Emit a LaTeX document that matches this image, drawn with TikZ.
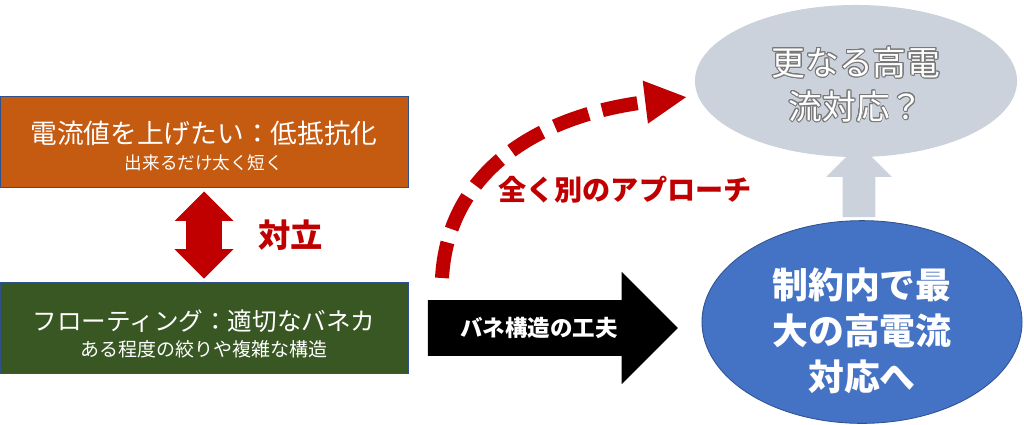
\documentclass[tikz,border=0pt]{standalone}
\usepackage{fontspec}
\setmainfont{Noto Sans CJK JP}
\usepackage{xcolor}
\usepackage{tikz}
\usepackage{contour}
\usetikzlibrary{shapes,arrows,arrows.meta,positioning,calc}
\definecolor{orangebox}{RGB}{197,90,17}
\definecolor{greenbox}{RGB}{56,87,35}
\definecolor{boxline}{RGB}{47,82,143}
\definecolor{darkred}{RGB}{192,0,0}
\definecolor{bluecloud}{RGB}{68,114,196}
\definecolor{greycloud}{RGB}{203,210,219}
\definecolor{greyedge}{RGB}{120,120,120}
\contourlength{0.7pt}
\lineskiplimit=-1000pt
\tikzstyle{block} = [rectangle, draw=boxline, line width=0.6pt, text=white, align=center, minimum
    width=10.2cm, minimum height=2.27cm, inner sep=0pt, font=\fontsize{12}{18.5}\selectfont]
\tikzstyle{cloud} = [ellipse, align=center, inner sep=0pt]
\tikzstyle{dblarrow} = [double arrow, shape border rotate=90, fill=darkred, inner sep=0.4375cm,
minimum height=2.175cm, double arrow head extend=0.29cm]
\tikzstyle{blockarrow} = [single arrow, fill=black, text=white, inner xsep=0pt, inner ysep=0.4075cm,
text height=0.49cm, text depth=0.07cm, minimum height=6.25cm,
single arrow head extend=0.71cm, font=\bfseries\fontsize{16}{18}\selectfont]
\tikzstyle{uparrow} = [single arrow, shape border rotate=90, fill=greycloud, inner sep=0.4cm,
single arrow head extend=0.41cm]
\tikzstyle{redtext} = [text=darkred, inner sep=0pt, font=\bfseries]
\tikzstyle{dashline} = [draw=darkred, line width=0.35cm, dash pattern=on 0.9cm off 0.35cm,
-{Triangle[length=1.05cm,width=1.0cm]}]

\begin{document}
\begin{tikzpicture}[x=0.025cm,y=-0.025cm]
      \useasboundingbox (0,0) rectangle (1024,424);
      \node [block, fill=orangebox] (demand) at (204,142) {\rule{0pt}{0.74cm}\fontsize{19}{19}\selectfont 電流値を上げたい：低抵抗化\\
        \fontsize{12.5}{17}\selectfont 出来るだけ太く短く};
      \node [block, fill=greenbox] (floating) at (204,328) {\rule{0pt}{0.79cm}\fontsize{17.5}{19}\selectfont フローティング：適切なバネカ\\
        \fontsize{13.5}{17}\selectfont ある程度の絞りや複雑な構造};

      \node [dblarrow] (conflict) at ($(demand.south)!0.5!(floating.north)$) {};
      \node [redtext, right=0.9cm of conflict, font=\bfseries\fontsize{23}{23}\selectfont] (conflictlabel) {対立};

      \node [blockarrow, right=0.475cm of floating] (spring) {バネ構造の工夫};

      \node [cloud, fill=bluecloud, draw=boxline, line width=0.6pt, text=white, minimum width=8cm,
        minimum height=4.625cm, font=\bfseries\fontsize{25.5}{32.7}\selectfont] (limit) at (862,322)
        {\rule{0pt}{1.2cm}制約内で最\\大の高電流\\対応へ};
      \node [cloud, fill=greycloud, text=white, minimum width=8.05cm, minimum height=3.8cm,
        font=\fontsize{24}{31.3}\selectfont] (future) at (856,81)
        {\rule{0pt}{0.9cm}\contour{greyedge}{更なる高電}\\\contour{greyedge}{流対応？}};

      \node [uparrow, minimum height=1.825cm] (upgrade) at ($(limit.north)!0.5!(future.south)$) {};

      \coordinate (altstart) at (442,278);
      \coordinate (altend) at (687,97);
      \path [dashline] (altstart) .. controls (448,170) and (540,115) .. (altend);
      \node [redtext, font=\bfseries\fontsize{20}{20}\selectfont] (altlabel) at (625,190) {全く別のアプローチ};

\end{tikzpicture}
\end{document}
